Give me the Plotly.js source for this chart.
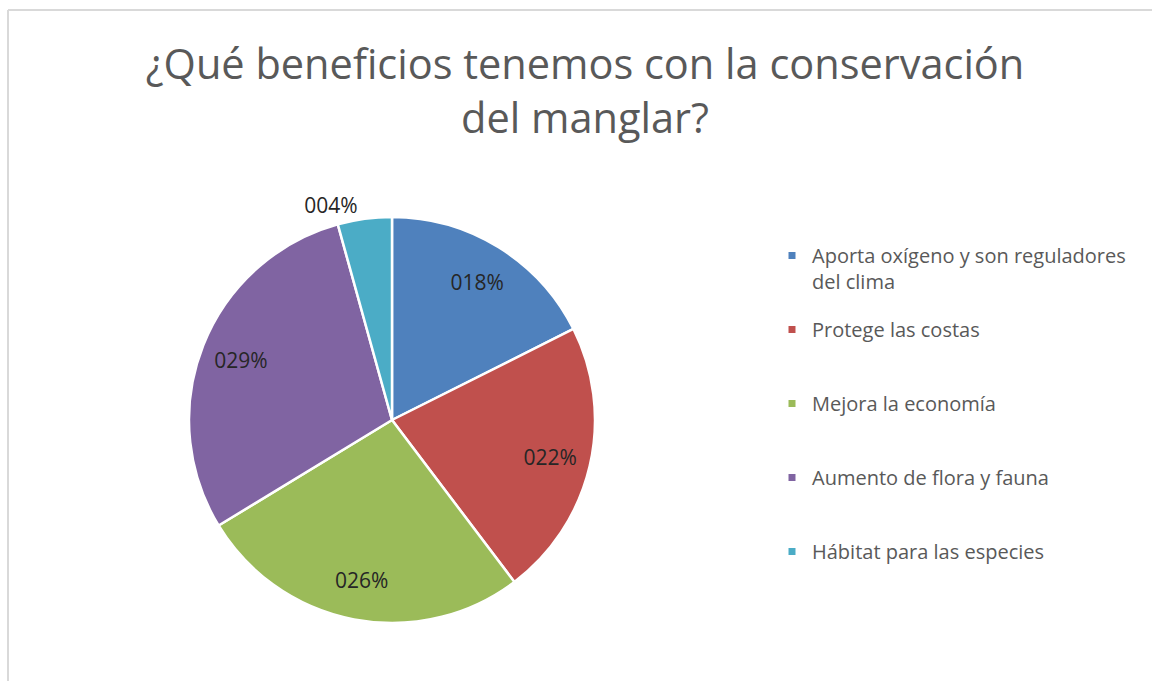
<!DOCTYPE html>
<html>
<head>
<meta charset="utf-8">
<script src="https://cdn.plot.ly/plotly-3.0.1.min.js"></script>
<style>
  html, body { margin: 0; padding: 0; background: #fff; }
  #chart { width: 1152px; height: 681px; }
</style>
</head>
<body>
<div id="chart"></div>
<script>
// ---- data ----
var categories = [
  "Aporta oxígeno y son reguladores<br>del clima",
  "Protege las costas",
  "Mejora la economía",
  "Aumento de flora y fauna",
  "Hábitat para las especies"
];
var values = [17.6, 22.1, 26.6, 29.4, 4.3];
var valueLabels = ["018%", "022%", "026%", "029%", "004%"];
var colors = ["#4F81BD", "#C0504D", "#9BBB59", "#8064A2", "#4BACC6"];
var titleText = "¿Qué beneficios tenemos con la conservación<br>del manglar?";

var W = 1152, H = 681;
var FONT = "Open Sans, Noto Sans, sans-serif";
var pieDomain = { x: [189 / W, 595 / W], y: [(H - 623) / H, (H - 217) / H] };

// slices
var slices = {
  type: "pie",
  labels: categories,
  values: values,
  textinfo: "none",
  sort: false,
  direction: "clockwise",
  rotation: 0,
  marker: { colors: colors, line: { color: "#ffffff", width: 2.5 } },
  domain: pieDomain,
  showlegend: false,
  hoverinfo: "label+percent",
  automargin: false
};

// value labels (same values, ring placement so labels sit near the rim)
var labelRing = {
  type: "pie",
  labels: categories,
  values: values,
  text: valueLabels,
  textinfo: "text",
  textposition: ["inside", "inside", "inside", "inside", "outside"],
  insidetextorientation: "horizontal",
  textfont: { family: FONT, size: 21, color: "#262626" },
  insidetextfont: { family: FONT, size: 21, color: "#262626" },
  outsidetextfont: { family: FONT, size: 21, color: "#262626" },
  hole: 0.6,
  sort: false,
  direction: "clockwise",
  rotation: 0,
  marker: { colors: colors.map(function () { return "rgba(0,0,0,0)"; }), line: { width: 0 } },
  domain: pieDomain,
  showlegend: false,
  hoverinfo: "skip",
  automargin: false
};

// legend entries (one per category, same colours)
var legendTraces = categories.map(function (c, i) {
  var txt = c.indexOf("<br>") >= 0 ? c : c + "<br>\u00a0";
  return {
    type: "scatter",
    mode: "markers",
    x: [null],
    y: [null],
    name: txt,
    legendgroup: "g" + i,
    marker: { symbol: "square", size: 7, color: colors[i] },
    showlegend: true,
    hoverinfo: "skip"
  };
});

var layout = {
  width: W,
  height: H,
  margin: { l: 0, r: 0, t: 0, b: 0, pad: 0 },
  paper_bgcolor: "#ffffff",
  plot_bgcolor: "rgba(0,0,0,0)",
  font: { family: FONT, color: "#595959" },
  xaxis: { visible: false, fixedrange: true },
  yaxis: { visible: false, fixedrange: true },
  title: {
    text: titleText,
    font: { family: FONT, size: 41.5, color: "#595959" },
    x: 585 / W,
    xanchor: "center",
    xref: "paper",
    y: 1 - 79 / H,
    yref: "container",
    yanchor: "top"
  },
  showlegend: true,
  legend: {
    x: 772 / W,
    xanchor: "left",
    y: 1 - 236 / H,
    yanchor: "top",
    valign: "top",
    traceorder: "grouped",
    tracegroupgap: 19,
    font: { family: FONT, size: 20, color: "#595959" },
    itemclick: false,
    bgcolor: "rgba(0,0,0,0)"
  },
  shapes: [
    { type: "line", xref: "paper", yref: "paper", x0: 8 / W, x1: 8 / W, y0: 0, y1: 1 - 10 / H,
      line: { color: "#d9d9d9", width: 2 } },
    { type: "line", xref: "paper", yref: "paper", x0: 8 / W, x1: 1, y0: 1 - 10 / H, y1: 1 - 10 / H,
      line: { color: "#d9d9d9", width: 2 } }
  ]
};

Plotly.newPlot("chart", [slices, labelRing].concat(legendTraces), layout, { displayModeBar: false, staticPlot: true });
</script>
</body>
</html>
